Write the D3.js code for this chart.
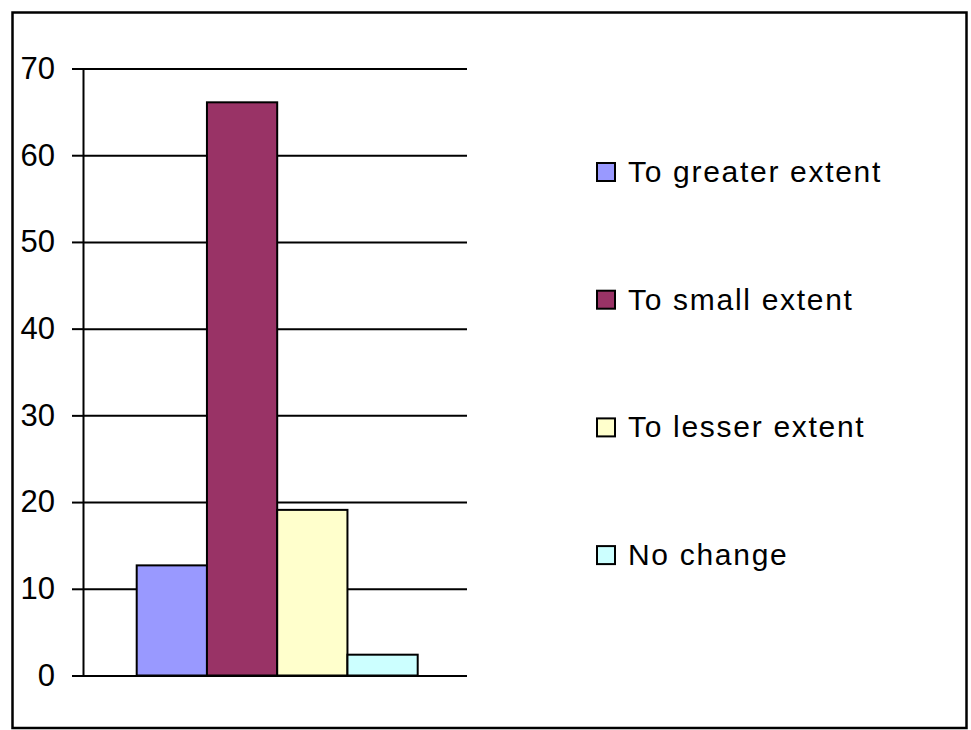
<!DOCTYPE html>
<html>
<head>
<meta charset="utf-8">
<script src="https://cdn.jsdelivr.net/npm/d3@7"></script>
<style>
  body { margin: 0; background: #fff; }
  text { font-family: "Liberation Sans", Arial, sans-serif; fill: #000; }
</style>
</head>
<body>
<div id="chart"></div>
<script>
var svgWidth = 971;
var svgHeight = 730;

var margin = { top: 68.5, right: 504, bottom: 54.5, left: 83 };
var width = svgWidth - margin.left - margin.right;
var height = svgHeight - margin.top - margin.bottom;

// data
var seriesNames = ["To greater extent", "To small extent", "To lesser extent", "No change"];
var seriesValues = [12.7, 66.1, 19.1, 2.4];
var seriesColors = ["#9999FF", "#993366", "#FFFFCC", "#CCFFFF"];
var yTicks = [0, 10, 20, 30, 40, 50, 60, 70];

var svg = d3.select("#chart")
  .append("svg")
  .attr("width", svgWidth)
  .attr("height", svgHeight);

// outer frame
svg.append("rect")
  .attr("x", 12.5)
  .attr("y", 12.5)
  .attr("width", 954)
  .attr("height", 715.5)
  .attr("fill", "none")
  .attr("stroke", "#000")
  .attr("stroke-width", 2.5);

var chartGroup = svg.append("g")
  .attr("transform", `translate(${margin.left}, ${margin.top})`);

var yScale = d3.scaleLinear()
  .domain([0, 70])
  .range([height, 0]);

// one category, bars side by side (Excel-style gap either side)
var xScale = d3.scaleBand()
  .domain(seriesNames)
  .range([53.7, width - 49.3]);

// gridlines
chartGroup.append("g")
  .call(d3.axisLeft(yScale).tickValues(yTicks).tickSize(-width).tickFormat(""))
  .call(g => g.select(".domain").remove())
  .call(g => g.selectAll("line").attr("stroke", "#000").attr("stroke-width", 2));

// bars
chartGroup.selectAll(".bar")
  .data(seriesValues)
  .enter()
  .append("rect")
  .attr("class", "bar")
  .attr("x", (d, i) => xScale(seriesNames[i]))
  .attr("y", d => yScale(d))
  .attr("width", xScale.bandwidth())
  .attr("height", d => height - yScale(d))
  .attr("fill", (d, i) => seriesColors[i])
  .attr("stroke", "#000")
  .attr("stroke-width", 2);

// y axis
var yAxis = chartGroup.append("g")
  .call(d3.axisLeft(yScale).tickValues(yTicks).tickSize(11).tickSizeOuter(0).tickPadding(17));
yAxis.select(".domain").attr("stroke", "#000").attr("stroke-width", 2);
yAxis.selectAll("line").attr("stroke", "#000").attr("stroke-width", 2);
yAxis.selectAll("text")
  .style("font-size", "31px")
  .style("font-family", "'Liberation Sans', Arial, sans-serif");

// legend
var legend = svg.append("g")
  .attr("transform", "translate(597, 172)");

var items = legend.selectAll(".item")
  .data(seriesNames)
  .enter()
  .append("g")
  .attr("class", "item")
  .attr("transform", (d, i) => `translate(0, ${i * 127.7})`);

items.append("rect")
  .attr("x", 0)
  .attr("y", -9)
  .attr("width", 18)
  .attr("height", 18)
  .attr("fill", (d, i) => seriesColors[i])
  .attr("stroke", "#000")
  .attr("stroke-width", 2);

items.append("text")
  .attr("x", 31)
  .attr("y", 10)
  .style("font-size", "30px")
  .style("letter-spacing", "1.7px")
  .text(d => d);
</script>
</body>
</html>
